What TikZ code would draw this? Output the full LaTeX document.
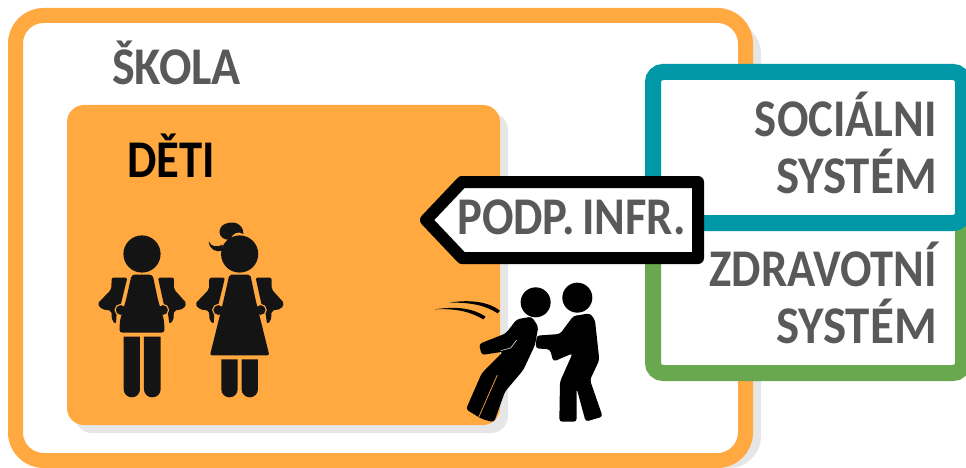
\documentclass[tikz,border=0pt]{standalone}
\usepackage{fontspec}
\setmainfont{Carlito}[BoldFont=Carlito Bold, BoldFeatures={FakeStretch=0.88}, WordSpace=0.7]
\definecolor{skolaorange}{HTML}{FFA940}
\definecolor{socteal}{HTML}{0097A7}
\definecolor{zdravgreen}{HTML}{6AA84F}
\definecolor{popisgray}{HTML}{595959}
\definecolor{stinshade}{HTML}{E6E6E6}
\definecolor{kidblack}{HTML}{141414}
\tikzset{
  popis/.style={font=\bfseries\fontsize{53}{53}\selectfont, text=popisgray, inner sep=0pt},
  pravy/.style={popis, anchor=base east},
  levy/.style={popis, anchor=base west},
  popruh/.style={draw=skolaorange, line width=1.1pt},
  kidfill/.style={fill=kidblack, draw=none},
  pushfill/.style={fill=black, draw=none}
}
% trunk with arms, shared by both kids, in zoomed units
\newcommand{\kidarms}[1]{
  \begin{scope}[xshift=#1*0.3333pt]
    \fill[kidfill, rounded corners=2pt] (65,203) -- (112,203) -- (92,285) -- (80,310) -- (78,342) -- (66,332) -- (64,302) -- (36,298) -- (22,282) -- (64,238) -- cycle;
    \fill[kidfill, rounded corners=2pt] (252,203) -- (204,203) -- (222,285) -- (234,310) -- (238,342) -- (250,332) -- (252,302) -- (280,297) -- (290,280) -- (252,238) -- cycle;
    \draw[popruh, fill=kidblack] (92,300) circle (5.6pt);
    \draw[popruh, fill=kidblack] (219,300) circle (5.6pt);
    \fill[kidfill] (156,132) circle (18.6pt);
  \end{scope}
}
\begin{document}
\begin{tikzpicture}[x=1pt,y=-1pt]
  \useasboundingbox (0,0) rectangle (966,468);
  % school frame
  \fill[stinshade, rounded corners=32pt] (30,22) rectangle (761,468);
  \draw[skolaorange, line width=15pt, rounded corners=28pt, fill=white] (15.5,15.5) rectangle (745.5,460.5);
  \node[levy, xscale=1.03] (skola) at (112,85) {ŠKOLA};

  % kids box
  \fill[stinshade, rounded corners=17pt] (75,113) rectangle (508,433);
  \fill[skolaorange, rounded corners=17pt] (67,105) rectangle (500,425);
  \node[levy, text=black] (deti) at (127,177) {DĚTI};

  % the two kids
  \begin{scope}[shift={(90,210)},x=0.3333pt,y=-0.3333pt]
    \kidarms{0}
    \kidarms{293}
    % boy
    \fill[kidfill, rounded corners=3pt] (125,194) -- (188,194) -- (204,270) -- (222,330) -- (224,368) -- (88,368) -- (90,330) -- (108,270) -- cycle;
    \fill[kidfill] (101,380) -- (150,380) [rounded corners=8pt] -- (150,562) -- (101,562) [sharp corners] -- cycle;
    \fill[kidfill] (162,380) -- (212,380) [rounded corners=8pt] -- (212,562) -- (162,562) [sharp corners] -- cycle;
    % girl
    \fill[kidfill, rounded corners=2pt] (418,194) -- (481,194) -- (497,270) -- (538,436) -- (360,436) -- (401,270) -- cycle;
    \fill[kidfill] (394,448) -- (443,448) [rounded corners=8pt] -- (443,562) -- (394,562) [sharp corners] -- cycle;
    \fill[kidfill] (455,448) -- (504,448) [rounded corners=8pt] -- (504,562) -- (455,562) [sharp corners] -- cycle;
    \fill[kidfill] (420,90) .. controls (380,90) and (380,48) .. (410,40) .. controls (440,30) and (462,50) .. (460,72) .. controls (445,62) and (428,68) .. (420,90) -- cycle;
    \fill[kidfill] (397,122) .. controls (380,128) and (358,120) .. (356,94) .. controls (364,112) and (382,112) .. (398,104) -- cycle;
  \end{scope}

  % side boxes
  \draw[zdravgreen, line width=16pt, rounded corners=10pt, fill=white] (653,215) rectangle (963,373);
  \draw[socteal, line width=16pt, rounded corners=10pt, fill=white] (653,72) rectangle (963,223);
  \node[pravy] (socialni) at (937,136) {SOCIÁLNI};
  \node[pravy, xscale=1.05] (socsystem) at (937,193) {SYSTÉM};
  \node[pravy] (zdravotni) at (937,286) {ZDRAVOTNÍ};
  \node[pravy, xscale=1.05] (zdravsystem) at (937,343) {SYSTÉM};

  % the pointer
  \draw[black, line width=12pt, line join=round, fill=white] (698,182) -- (462,182) -- (426,220) -- (462,258) -- (698,258) -- cycle;
  \node[levy] (podpinfr) at (457,234) {PODP. INFR.};

  % pushing scene
  \begin{scope}[shift={(420,270)},x=0.3333pt,y=-0.3333pt]
    \fill[pushfill] (347,97) circle (15pt);
    \fill[pushfill] (472,83) circle (15pt);
    \fill[pushfill, rounded corners=3pt] (290,148) -- (335,140) -- (355,170) -- (345,225) -- (310,300) -- (255,365) -- (222,457) -- (185,447) -- (138,418) -- (185,310) -- (250,245) -- (185,255) -- (177,222) -- (258,190) -- cycle;
    \fill[pushfill, rounded corners=3pt] (460,138) -- (510,130) -- (525,150) -- (538,270) -- (510,330) -- (548,440) -- (497,455) -- (470,355) -- (470,455) -- (418,455) -- (420,335) -- (458,250) -- (400,275) -- (390,238) -- (347,235) -- (350,197) -- (420,192) -- cycle;
    \draw[skolaorange, line width=0.7pt] (232,315) -- (176,442);
    \draw[stinshade, line width=0.6pt] (242,242) -- (272,234) -- (290,210);
    \fill[pushfill] (45,118) .. controls (110,108) and (160,115) .. (197,140) -- (190,148) .. controls (150,125) and (110,115) .. (45,118) -- cycle;
    \fill[pushfill] (88,98) .. controls (150,88) and (205,95) .. (240,122) -- (233,130) .. controls (195,105) and (150,97) .. (88,98) -- cycle;
  \end{scope}
\end{tikzpicture}
\end{document}
